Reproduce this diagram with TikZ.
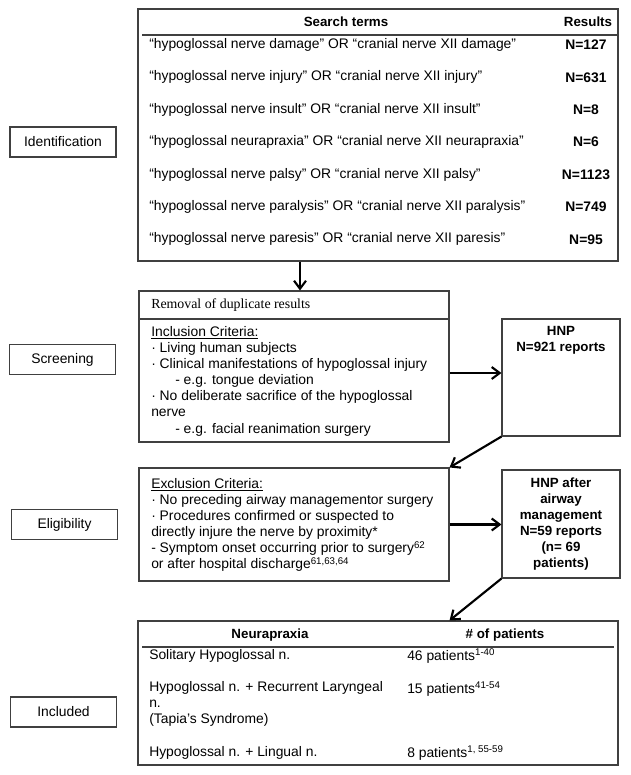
\documentclass[tikz,border=0pt]{standalone}
\usepackage{fontspec}
\setmainfont{Liberation Sans}
\newfontfamily\dupfont{Liberation Serif}
\usepackage{tikz}
\usetikzlibrary{calc}
\usetikzlibrary{arrows.meta}
\usetikzlibrary{positioning}

\begin{document}
\begin{tikzpicture}[x=0.75pt,y=-0.75pt,>={Straight Barb[length=6pt,width=9pt]},
		font=\fontsize{10.4}{12.1}\selectfont,
		frame/.style={rectangle,draw=black!75,line width=0.8pt,inner sep=0pt},
		stage/.style={frame,minimum width=79.5pt,minimum height=22.5pt},
		crit/.style={anchor=north west,align=left,inner sep=0pt},
		cell/.style={anchor=west,inner sep=0pt},
		flow/.style={->,line width=1.6pt}]
		\useasboundingbox (0,0) rectangle (631,775);
		
		\node[stage]  (ident)   at (63,142)      {Identification};
		\node[stage]  (screen)  at (62.5,359.5)  {Screening};
		\node[stage]  (elig)    at (64.5,524.5)  {Eligibility};
		\node[stage]  (incl)    at (63.5,712)    {Included};
		
		\node[frame,minimum width=360pt,minimum height=189pt] (search) at (378,135) {};
		\node[font=\bfseries] (termhead) at (346,22) {Search terms};
		\node[font=\bfseries] (hitshead) at (588,22) {Results};
		\draw[draw=black!75,line width=0.8pt] (142,35) -- (618,35);
		\foreach \txt/\hits [count=\i from 0] in {
			{``hypoglossal nerve damage'' OR ``cranial nerve XII damage''}/127,
			{``hypoglossal nerve injury'' OR ``cranial nerve XII injury''}/631,
			{``hypoglossal nerve insult'' OR ``cranial nerve XII insult''}/8,
			{``hypoglossal neurapraxia'' OR ``cranial nerve XII neurapraxia''}/6,
			{``hypoglossal nerve palsy'' OR ``cranial nerve XII palsy''}/1123,
			{``hypoglossal nerve paralysis'' OR ``cranial nerve XII paralysis''}/749,
			{``hypoglossal nerve paresis'' OR ``cranial nerve XII paresis''}/95}
		{
			\node[cell] (term\i) at (149,45+32.4*\i) {\txt};
			\node[inner sep=0pt] (hits\i) at (586,45+32.4*\i) {\textbf{N=\hits}};
		}
		
		\node[frame,minimum width=232.5pt,minimum height=113.25pt] (removal) at (294,366.5) {};
		\draw[draw=black!75,line width=0.8pt] (139,319) -- (449,319);
		\node[cell,font=\dupfont\fontsize{10.4}{12.1}\selectfont] (dup) at (151,305) {Removal of duplicate results};
		\node[crit] (inccrit) at (151,326) {\underline{Inclusion Criteria:}\\
			· Living human subjects\\
			· Clinical manifestations of hypoglossal injury\\
			\hspace*{18pt}- e.g. tongue deviation\\
			· No deliberate sacrifice of the hypoglossal\\
			nerve\\
			\hspace*{18pt}- e.g. facial reanimation surgery};
		
		\node[frame,minimum width=88.5pt,minimum height=87.75pt] (hnp) at (561,377.5) {};
		\node[anchor=north,align=center,inner sep=0pt,font=\bfseries] (hnptxt) at (561,326) {HNP\\N=921 reports};
		
		\node[frame,minimum width=232.5pt,minimum height=84.75pt] (exclusion) at (294,524.5) {};
		\node[crit] (exccrit) at (151,478) {\underline{Exclusion Criteria:}\\
			· No preceding airway managementor surgery\\
			· Procedures confirmed or suspected to\\
			directly injure the nerve by proximity*\\
			- Symptom onset occurring prior to surgery\textsuperscript{62}\\
			or after hospital discharge\textsuperscript{61,63,64}};
		
		\node[frame,minimum width=88.5pt,minimum height=81pt,align=center,font=\bfseries] (hnp2) at (561,524)
			{HNP after\\airway\\management\\N=59 reports\\(n= 69\\patients)};
		
		\node[frame,minimum width=360pt,minimum height=108pt] (found) at (378,693) {};
		\node[font=\bfseries] (nervehead) at (270,635) {Neurapraxia};
		\node[font=\bfseries] (counthead) at (505,635) {\# of patients};
		\draw[draw=black!75,line width=0.8pt] (142,647) -- (614,647);
		\node[cell] (solo)     at (149,656) {Solitary Hypoglossal n.};
		\node[crit] (tapia)    at (149,681) {Hypoglossal n. + Recurrent Laryngeal\\n.\\(Tapia's Syndrome)};
		\node[cell] (lingual)  at (149,753) {Hypoglossal n. + Lingual n.};
		\node[cell] (solon)    at (407,656) {46 patients\textsuperscript{1-40}};
		\node[cell] (tapian)   at (407,689) {15 patients\textsuperscript{41-54}};
		\node[cell] (lingualn) at (407,753) {8 patients\textsuperscript{1, 55-59}};
		
		\coordinate (drop) at ($(removal.north)+(6,0)$);
		\coordinate (pass) at ($(removal.east)+(0,6.5)$);
		
		\path[flow]
		(drop |- search.south) edge (drop)
		(pass) edge (pass -| hnp.west)
		(hnp.south west) edge (exclusion.north east)
		(exclusion.east) edge (exclusion.east -| hnp2.west)
		(hnp2.south west) edge (exclusion.east |- found.north);
\end{tikzpicture}
\end{document}
